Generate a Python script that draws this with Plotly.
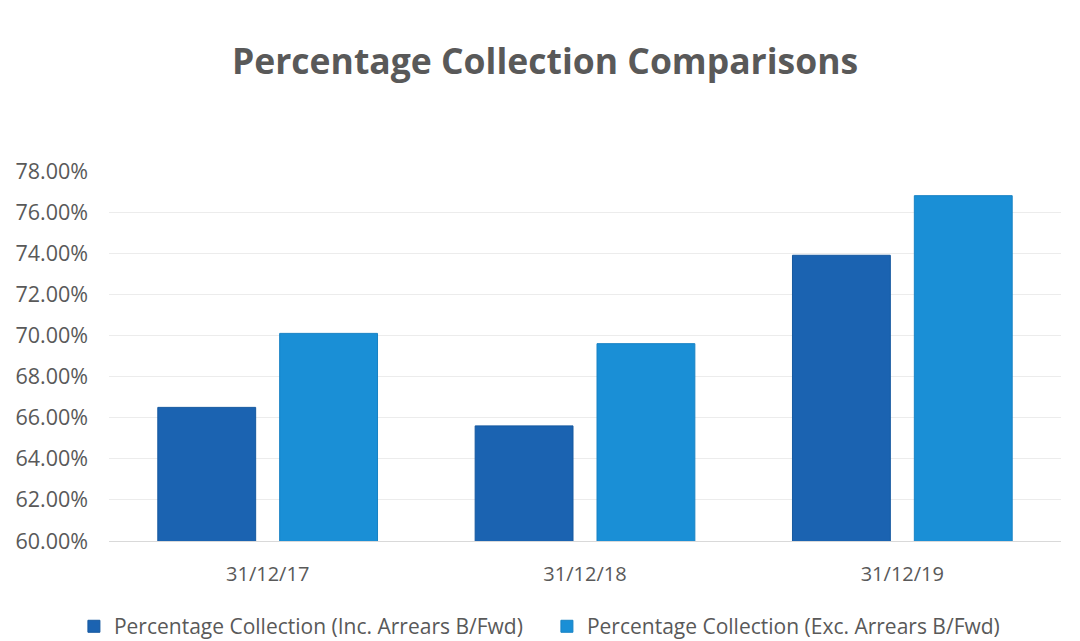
import plotly.graph_objects as go

categories = ["31/12/17", "31/12/18", "31/12/19"]
inc_arrears = [66.5, 65.6, 73.9]
exc_arrears = [70.1, 69.6, 76.8]
series_names = ["Percentage Collection (Inc. Arrears B/Fwd)",
                "Percentage Collection (Exc. Arrears B/Fwd)"]
y_ticks = [60, 62, 64, 66, 68, 70, 72, 74, 76, 78]
y_tick_labels = [f"{v:.2f}%" for v in y_ticks]

FONT = "Open Sans"
GRAY = "#595959"

fig = go.Figure()
fig.add_trace(go.Bar(x=categories, y=inc_arrears, name=series_names[0],
                     marker=dict(color="#1b63b1", line=dict(color="#15589f", width=1)),
                     base=0))
fig.add_trace(go.Bar(x=categories, y=exc_arrears, name=series_names[1],
                     marker=dict(color="#1a8fd6", line=dict(color="#1782c4", width=1)),
                     base=0))

# the page body adds an 8px offset, so the figure is sized to fit inside the window
fig.update_layout(
    width=1072, height=633,
    paper_bgcolor="white", plot_bgcolor="white",
    margin=dict(l=101, r=19, t=163, b=100, autoexpand=False),
    barmode="group", bargap=0.232, bargroupgap=0.197,
    title=dict(text="<b>Percentage Collection Comparisons</b>",
               x=0.501, xanchor="center", y=0.915, yanchor="middle",
               font=dict(family=FONT, size=35.5, color=GRAY)),
    font=dict(family=FONT, color=GRAY, size=20),
    showlegend=True,
    legend=dict(orientation="h", x=0.46, xanchor="center", y=-0.176, yanchor="top",
                font=dict(family=FONT, size=21, color=GRAY),
                itemwidth=30, entrywidth=428, traceorder="normal"),
    xaxis=dict(showgrid=False, showline=True, linecolor="#d9d9d9", linewidth=1,
               tickfont=dict(family=FONT, size=20, color=GRAY), ticks="",
               ticklabelstandoff=15),
    yaxis=dict(range=[60, 78], tickvals=y_ticks, ticktext=y_tick_labels,
               showgrid=True, gridcolor="#ececec", gridwidth=1, zeroline=False,
               showline=False, ticks="", ticklabelstandoff=20,
               tickfont=dict(family=FONT, size=21.5, color=GRAY)),
)

fig.write_html("out.html")
